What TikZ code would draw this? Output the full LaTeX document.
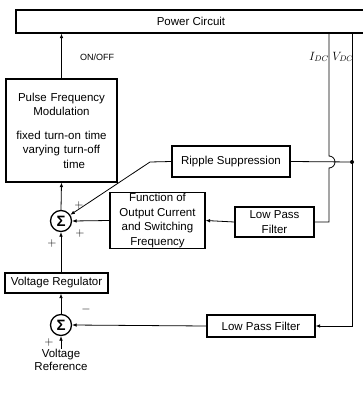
\documentclass[tikz,border=0pt]{standalone}
\usepackage{fontspec}
\setmainfont{Liberation Sans}
\usetikzlibrary{arrows.meta}
\tikzset{
  blk/.style={draw,line width=1.2pt,inner sep=1pt,align=center,font=\fontsize{11.5}{14.5}\selectfont},
  sig/.style={circle,draw,line width=1.3pt,minimum size=21pt,inner sep=0pt,font=\fontsize{15}{15}\selectfont\bfseries},
  ln/.style={line width=0.8pt},
  arr/.style={line width=0.8pt,-{Latex[length=4.5pt,width=3.6pt]}},
  lbl/.style={font=\fontsize{11.5}{13.5}\selectfont,inner sep=0pt},
  jdot/.style={circle,fill=black,inner sep=0pt,minimum size=4pt},
}
\begin{document}
\begin{tikzpicture}[x=1pt,y=1pt]
  \useasboundingbox (0,0) rectangle (363,-396);
  % blocks
  \node[blk,minimum width=350,minimum height=23] (pwr) at (191,-21.5) {Power Circuit};
  \node[blk,minimum width=111,minimum height=103,text width=104] (pfm) at (61.5,-130.5)
    {Pulse Frequency\\Modulation\\[9pt]fixed turn-on time\\varying turn-off\\\hspace*{2.2em}time};
  \node[blk,minimum width=118,minimum height=31] (rip) at (231,-161.5) {Ripple Suppression};
  \node[blk,minimum width=95,minimum height=55] (fn) at (157.5,-220.5)
    {Function of\\Output Current\\and Switching\\Frequency};
  \node[blk,minimum width=79,minimum height=30] (lpfa) at (274.5,-222) {Low Pass\\Filter};
  \node[blk,minimum width=103,minimum height=20] (vr) at (56.5,-283) {Voltage Regulator};
  \node[blk,minimum width=108,minimum height=22] (lpfb) at (261,-326) {Low Pass Filter};
  % summing junctions
  \node[sig] (s1) at (61,-221) {Σ};
  \node[sig] (s2) at (61,-325) {Σ};
  \node[lbl,align=center] (vref) at (61,-360) {Voltage\\Reference};
  % taps on the power circuit
  \coordinate (itop) at (329,-33);
  \coordinate (vtop) at (352,-33);
  \node[jdot] (vdot) at (352,-162) {};
  \coordinate (rbend) at (150,-162);
  % labels
  \node[lbl,font=\fontsize{9}{10}\selectfont] (onoff) at (97,-57) {ON/OFF};
  \node[lbl] (ilab) at (319,-57) {$I_{DC}$};
  \node[lbl] (vlab) at (343,-57) {$V_{DC}$};
  \node[lbl] (p1) at (79,-205) {$+$};
  \node[lbl] (p2) at (80,-233) {$+$};
  \node[lbl] (p3) at (52,-243) {$+$};
  \node[lbl] (m1) at (86,-309) {$-$};
  \node[lbl] (p4) at (49,-342) {$+$};
  % connectors
  \draw[arr] (pfm.north) -- (pfm.north |- pwr.south);
  \draw[ln] (itop) -- (329,-156) arc[start angle=90,end angle=-90,radius=6]
    -- (itop |- lpfa.east) -- (lpfa.east);
  \draw[arr] (vtop) -- (vtop |- lpfb.east) -- (lpfb.east);
  \draw[ln] (vdot) -- (rip.east);
  \draw[arr] (rip.west) -- (rbend) -- (s1);
  \draw[arr] (lpfa.west) -- (fn.east);
  \draw[arr] (fn.west) -- (s1.east);
  \draw[arr] (s1.north) -- (pfm.south);
  \draw[arr] (vr.north -| s1) -- (s1.south);
  \draw[arr] (s2.north) -- (vr.south -| s2);
  \draw[arr] (lpfb.west) -- (s2.east);
  \draw[arr] (vref.north) -- (s2.south);
\end{tikzpicture}
\end{document}
